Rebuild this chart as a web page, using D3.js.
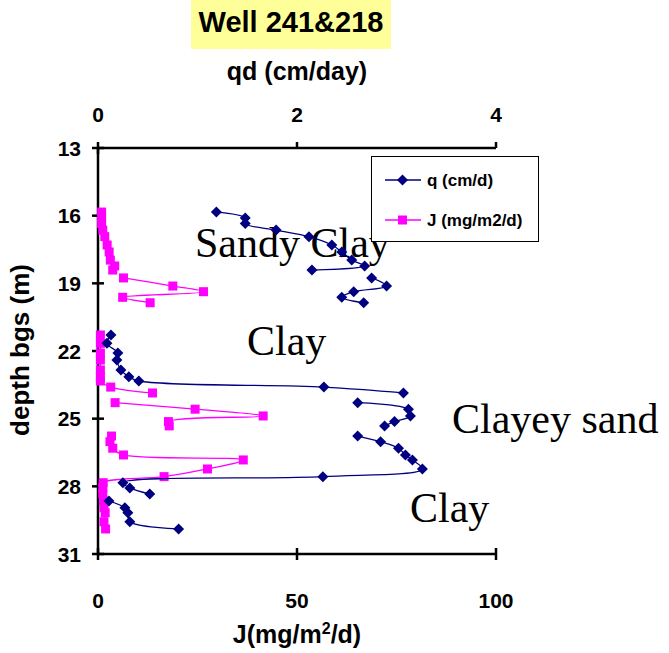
<!DOCTYPE html>
<html>
<head>
<meta charset="utf-8">
<script src="https://cdn.jsdelivr.net/npm/d3@7"></script>
<style>
  body { margin: 0; background: #fff; }
  svg text { font-family: Arial, "Liberation Sans", sans-serif; }
</style>
</head>
<body>
<div id="chart"></div>
<script>
// depth below ground (m); null = break in the line
const depth = [15.84, 16.10, 16.35, 16.64, 16.93, 17.30, 17.61, 17.97, 18.23, 18.41, null,
               18.76, 19.12, 19.37, 19.62, 19.86, null,
               21.29, 21.66, 22.09, 22.40, 22.84, 23.14, 23.33, 23.60, 23.86, null,
               24.29, 24.58, 24.88, 25.13, 25.32, null,
               25.77, 26.02, 26.31, 26.61, 26.83, 27.23, 27.57, 27.84, 28.07, 28.34, null,
               28.65, 28.95, 29.17, 29.57, 29.89];
// q (cm/d), top axis
const qd = [1.19, 1.48, 1.48, 1.79, 2.12, 2.35, 2.45, 2.55, 2.68, 2.15, null,
            2.75, 2.90, 2.57, 2.45, 2.67, null,
            0.13, 0.09, 0.20, 0.19, 0.23, 0.31, 0.41, 2.27, 3.07, null,
            2.61, 3.12, 3.14, 2.98, 2.88, null,
            2.61, 2.84, 3.02, 3.09, 3.16, 3.26, 2.26, 0.25, 0.32, 0.52, null,
            0.11, 0.27, 0.30, 0.32, 0.81];
// J (mg/m2/d), bottom axis
const jFlux = [0.9, 0.9, 0.9, 1.2, 1.7, 2.3, 2.8, 3.1, 4.2, 3.7, null,
               6.4, 18.8, 26.5, 6.2, 13.1, null,
               0.6, 0.6, 0.6, 0.6, 0.6, 0.6, 0.6, 3.2, 13.7, null,
               4.3, 24.4, 41.5, 17.7, 17.9, null,
               3.4, 3.0, 3.7, 6.4, 36.5, 27.5, 16.6, 1.3, 1.2, 1.2, null,
               1.4, 1.5, 1.8, 1.5, 1.9];

const depthTicks = [13, 16, 19, 22, 25, 28, 31];
const qTicks = [0, 2, 4];
const jTicks = [0, 50, 100];

const layers = [
  { name: "Sandy Clay", x: 195, y: 257 },
  { name: "Clay", x: 247, y: 355 },
  { name: "Clayey sand", x: 452, y: 433 },
  { name: "Clay", x: 410, y: 522 }
];

const W = 669, H = 653;
const mLeft = 98, mRight = 496, mTop = 148, mBottom = 554;

const svg = d3.select("#chart").append("svg")
  .attr("width", W)
  .attr("height", H);

const y = d3.scaleLinear().domain([13, 31]).range([mTop, mBottom]);
const xq = d3.scaleLinear().domain([0, 4]).range([mLeft, mRight]);
const xj = d3.scaleLinear().domain([0, 100]).range([mLeft, mRight]);

const rows = depth.map((d, i) => ({ d: d, q: qd[i], j: jFlux[i] }));

// titre
svg.append("rect").attr("x", 191).attr("y", 0).attr("width", 200).attr("height", 49)
  .attr("fill", "#ffff99");
svg.append("text").attr("x", 291).attr("y", 32)
  .attr("text-anchor", "middle").attr("font-size", 29).attr("font-weight", "bold")
  .text("Well 241&218");

// lignes des axes
const axisG = svg.append("g").attr("stroke", "#000").attr("stroke-width", 2.5);
axisG.append("line").attr("x1", mLeft).attr("x2", mRight).attr("y1", mTop).attr("y2", mTop);
axisG.append("line").attr("x1", mLeft).attr("x2", mRight).attr("y1", mBottom).attr("y2", mBottom);
axisG.append("line").attr("x1", mLeft).attr("x2", mLeft).attr("y1", mTop).attr("y2", mBottom);

const tk = 6;
qTicks.forEach(t => {
  axisG.append("line").attr("x1", xq(t)).attr("x2", xq(t)).attr("y1", mTop - tk).attr("y2", mTop + (t === 0 ? tk : 0));
});
jTicks.forEach(t => {
  axisG.append("line").attr("x1", xj(t)).attr("x2", xj(t)).attr("y1", mBottom - tk).attr("y2", mBottom + tk);
});
depthTicks.forEach(t => {
  axisG.append("line").attr("x1", mLeft - tk).attr("x2", mLeft + tk).attr("y1", y(t)).attr("y2", y(t));
});

// labels des graduations
svg.append("g").selectAll("text").data(qTicks).join("text")
  .attr("x", d => xq(d)).attr("y", 122)
  .attr("text-anchor", "middle").attr("font-size", 21).attr("font-weight", "bold")
  .text(d => d);
svg.append("g").selectAll("text").data(jTicks).join("text")
  .attr("x", d => xj(d)).attr("y", 608)
  .attr("text-anchor", "middle").attr("font-size", 21).attr("font-weight", "bold")
  .text(d => d);
svg.append("g").selectAll("text").data(depthTicks).join("text")
  .attr("x", 81).attr("y", d => y(d)).attr("dy", "0.36em")
  .attr("text-anchor", "end").attr("font-size", 21).attr("font-weight", "bold")
  .text(d => d);

// titres des axes
svg.append("text").attr("x", 297).attr("y", 80)
  .attr("text-anchor", "middle").attr("font-size", 25).attr("font-weight", "bold")
  .text("qd (cm/day)");
const jt = svg.append("text").attr("x", 297).attr("y", 643)
  .attr("text-anchor", "middle").attr("font-size", 25).attr("font-weight", "bold");
jt.append("tspan").text("J(mg/m");
jt.append("tspan").attr("font-size", 16).attr("dy", -9).text("2");
jt.append("tspan").attr("dy", 9).text("/d)");
svg.append("text")
  .attr("transform", "translate(29,350) rotate(-90)")
  .attr("text-anchor", "middle").attr("font-size", 26).attr("font-weight", "bold")
  .text("depth bgs (m)");

// noms des couches
svg.append("g").selectAll("text").data(layers).join("text")
  .attr("x", d => d.x).attr("y", d => d.y)
  .style("font-family", "'Times New Roman', 'Liberation Serif', serif")
  .attr("font-size", 42)
  .text(d => d.name);

// séries
const qLine = d3.line()
  .defined(d => d.d != null && d.q != null)
  .x(d => xq(d.q)).y(d => y(d.d))
  .curve(d3.curveCatmullRom.alpha(0.5));
const jLine = d3.line()
  .defined(d => d.d != null && d.j != null)
  .x(d => xj(d.j)).y(d => y(d.d))
  .curve(d3.curveCatmullRom.alpha(0.5));

const pts = rows.filter(r => r.d != null);

svg.append("path").datum(rows).attr("d", jLine)
  .attr("fill", "none").attr("stroke", "#ff00ff").attr("stroke-width", 1.3);
svg.append("g").selectAll("rect").data(pts).join("rect")
  .attr("x", d => xj(d.j) - 4.5).attr("y", d => y(d.d) - 4.5)
  .attr("width", 9).attr("height", 9).attr("fill", "#ff00ff");

svg.append("path").datum(rows).attr("d", qLine)
  .attr("fill", "none").attr("stroke", "#000080").attr("stroke-width", 1.3);
svg.append("g").selectAll("path").data(pts).join("path")
  .attr("transform", d => `translate(${xq(d.q)},${y(d.d)})`)
  .attr("d", "M0,-5.5L5.5,0L0,5.5L-5.5,0Z")
  .attr("fill", "#000080");

// légende
const lg = svg.append("g");
lg.append("rect").attr("x", 371.5).attr("y", 156.5).attr("width", 167).attr("height", 85)
  .attr("fill", "#fff").attr("stroke", "#000").attr("stroke-width", 1);
lg.append("line").attr("x1", 385).attr("x2", 421).attr("y1", 180).attr("y2", 180)
  .attr("stroke", "#000080").attr("stroke-width", 1.3);
lg.append("path").attr("d", "M402.5,174.5L408,180L402.5,185.5L397,180Z").attr("fill", "#000080");
lg.append("text").attr("x", 427).attr("y", 186).attr("font-size", 17).attr("font-weight", "bold")
  .text("q (cm/d)");
lg.append("line").attr("x1", 385).attr("x2", 421).attr("y1", 220).attr("y2", 220)
  .attr("stroke", "#ff00ff").attr("stroke-width", 1.3);
lg.append("rect").attr("x", 398).attr("y", 215.5).attr("width", 9).attr("height", 9).attr("fill", "#ff00ff");
lg.append("text").attr("x", 427).attr("y", 226).attr("font-size", 17).attr("font-weight", "bold")
  .text("J (mg/m2/d)");
</script>
</body>
</html>
